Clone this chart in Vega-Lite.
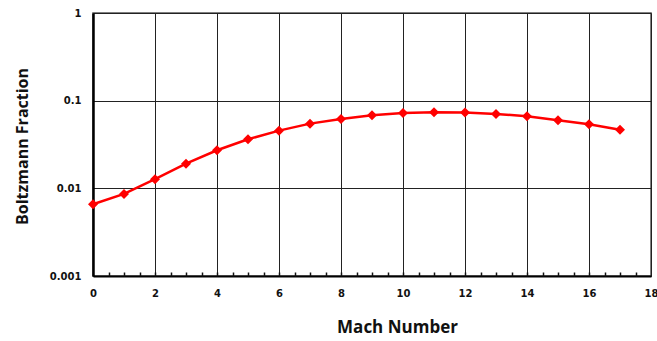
{
  "$schema": "https://vega.github.io/schema/vega-lite/v6.json",
  "autosize": {"type": "none"},
  "padding": {"left": 93, "top": 13, "right": 6, "bottom": 65},
  "width": 558,
  "height": 263,
  "background": "white",
  "config": {
    "view": {"stroke": "#555555", "strokeWidth": 1.5},
    "axis": {"labelFont": "DejaVu Sans", "labelFontWeight": "bold", "labelFontSize": 10, "labelColor": "#111111", "titleFont": "Open Sans", "titleFontWeight": "bold", "titleColor": "#111111", "labelFlush": false, "labelOverlap": false}
  },
  "data": {"values": [
    {"mach": 0, "frac": 0.00659},
    {"mach": 1, "frac": 0.00863},
    {"mach": 2, "frac": 0.0127},
    {"mach": 3, "frac": 0.0191},
    {"mach": 4, "frac": 0.0272},
    {"mach": 5, "frac": 0.0363},
    {"mach": 6, "frac": 0.0455},
    {"mach": 7, "frac": 0.0547},
    {"mach": 8, "frac": 0.0618},
    {"mach": 9, "frac": 0.0681},
    {"mach": 10, "frac": 0.0724},
    {"mach": 11, "frac": 0.0737},
    {"mach": 12, "frac": 0.0731},
    {"mach": 13, "frac": 0.0705},
    {"mach": 14, "frac": 0.0664},
    {"mach": 15, "frac": 0.0597},
    {"mach": 16, "frac": 0.0537},
    {"mach": 17, "frac": 0.0467}
  ]},
  "layer": [
    {
      "mark": {"type": "line", "color": "#ff0000", "strokeWidth": 2.5},
      "encoding": {
        "x": {"field": "mach", "type": "quantitative", "scale": {"domain": [0, 18], "nice": false, "zero": false},
          "axis": {"orient": "bottom", "values": [0,2,4,6,8,10,12,14,16,18], "grid": true, "gridColor": "#222222", "gridWidth": 1, "domainColor": "#000000", "domainWidth": 2, "ticks": false, "labelPadding": 12, "labelBound": false, "title": "Mach Number", "titleFontSize": 17, "titleX": 304, "titleY": 51, "titleBaseline": "middle"}},
        "y": {"field": "frac", "type": "quantitative", "scale": {"type": "log", "domain": [0.001, 1], "nice": false},
          "axis": {"values": [0.001, 0.01, 0.1, 1], "format": "~g", "grid": true, "gridColor": "#222222", "gridWidth": 1, "domainColor": "#000000", "domainWidth": 2.5, "ticks": false, "labelPadding": 12, "title": "Boltzmann Fraction", "titleFontSize": 16, "titleX": -71, "titleY": 133, "titleBaseline": "middle"}}
      }
    },
    {
      "mark": {"type": "point", "shape": "diamond", "filled": true, "color": "#ff0000", "size": 100, "opacity": 1},
      "encoding": {
        "x": {"field": "mach", "type": "quantitative",
          "axis": {"orient": "bottom", "values": [0.5,1,1.5,2,2.5,3,3.5,4,4.5,5,5.5,6,6.5,7,7.5,8,8.5,9,9.5,10,10.5,11,11.5,12,12.5,13,13.5,14,14.5,15,15.5,16,16.5,17,17.5], "labels": false, "grid": false, "domain": false, "tickSize": -4, "tickColor": "#111111", "tickWidth": 1.5, "title": null}},
        "y": {"field": "frac", "type": "quantitative"}
      }
    }
  ],
  "resolve": {"axis": {"x": "independent"}}
}
